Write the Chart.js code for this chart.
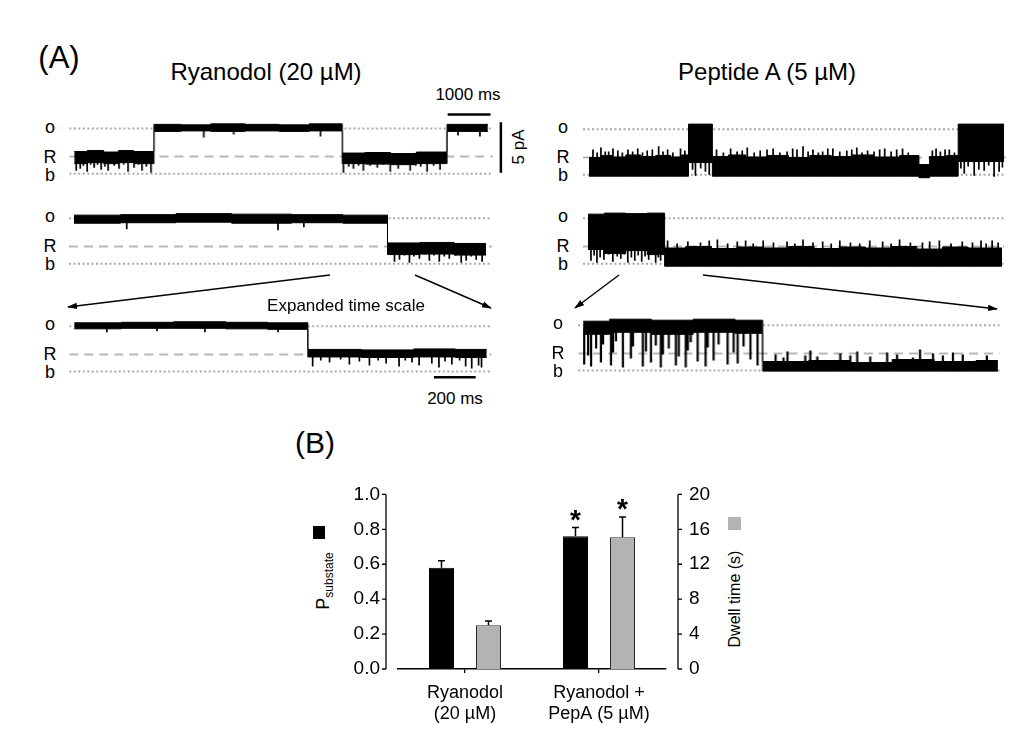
<!DOCTYPE html>
<html>
<head>
<meta charset="utf-8">
<script src="https://cdn.jsdelivr.net/npm/chart.js"></script>
<style>
html, body { margin: 0; padding: 0; background: #fff; }
#fig { position: relative; width: 1022px; height: 740px; overflow: hidden;
       font-family: "Liberation Sans", Arial, sans-serif; color: #000; }
.t { position: absolute; white-space: nowrap; line-height: 1; }
.wrap { position: absolute; }
.sq { position: absolute; }
</style>
</head>
<body>
<div id="fig">
  <svg width="1022" height="740" style="position:absolute;left:0;top:0">
    <defs>
      <marker id="ah" markerWidth="10" markerHeight="8" refX="9" refY="4" orient="auto" markerUnits="userSpaceOnUse">
        <path d="M0,0.8 L10,4 L0,7.2 z" fill="#000"/>
      </marker>
    </defs>
    <g stroke="#000" stroke-width="1.4" marker-end="url(#ah)">
      <line x1="330" y1="275" x2="68" y2="307"/>
      <line x1="415" y1="275" x2="491" y2="308"/>
      <line x1="619" y1="275" x2="575" y2="308"/>
      <line x1="703" y1="275" x2="997" y2="309"/>
    </g>
  </svg>
</div>
<script>
// ---- panel A: levels (pA) ----
const levelO = 4.5, levelR = 1.7, levelB = 0;

// Ryanodol, 1st row (time ms, envelope top/bottom pA, spikes)
const L1_t  = [116, 420, 800, 1150, 1500, 1977, 2600, 3300, 4100, 4900, 5600, 6372, 6900, 7500, 8100, 8815, 9767];
const L1_hi = [2.2, 2.3, 2.15, 2.3, 2.2, 4.9, 4.85, 4.95, 4.9, 4.85, 4.95, 2.05, 2.1, 2.0, 2.15, 4.9, 4.9];
const L1_lo = [1.0, 1.1, 1.0, 1.1, 1.0, 4.2, 4.25, 4.2, 4.25, 4.2, 4.25, 1.0, 0.95, 0.9, 1.0, 4.2, 4.2];
const L1_spT = [163, 256, 330, 419, 500, 581, 660, 744, 830, 907, 1050, 1163, 1270, 1372, 1512, 1620, 1698, 1800, 1907,
                3140, 3838, 5861,
                6396, 6520, 6629, 6750, 6862, 7020, 7187, 7330, 7490, 7676, 7800, 7955, 8080, 8200, 8350, 8500, 8652,
                9070, 9582];
const L1_spY = [0.3, 0.5, 0.8, 0.2, 0.9, 0.6, 0.9, 0.4, 0.7, 0.3, 0.8, 0.5, 0.9, 0.2, 0.6, 0.9, 0.3, 0.7, 0.1,
                3.6, 3.9, 3.7,
                0.1, 0.7, 0.5, 0.8, 0.3, 0.8, 0.6, 0.9, 0.2, 0.5, 0.9, 0.3, 0.8, 0.7, 0.2, 0.8, 0.4,
                3.8, 3.7];

// Ryanodol, 2nd row
const L2_t  = [116, 1200, 2500, 3800, 5200, 6400, 7442, 8200, 9000, 9744];
const L2_hi = [4.8, 4.85, 4.95, 4.9, 4.85, 4.8, 2.05, 2.1, 2.0, 2.0];
const L2_lo = [4.0, 4.05, 4.1, 4.0, 4.05, 4.0, 0.9, 0.95, 0.85, 0.85];
const L2_spT = [1349, 4884, 5488, 7606, 7722, 7840, 7955, 8060, 8188, 8300, 8420, 8530, 8653, 8770, 8886, 9030, 9165, 9281, 9400, 9514, 9653];
const L2_spY = [3.4, 3.3, 3.6, 0.2, 0.4, 0.8, 0.1, 0.7, 0.5, 0.9, 0.3, 0.8, 0.2, 0.7, 0.5, 0.8, 0.1, 0.3, 0.7, 0.4, 0.2];

// Ryanodol, expanded
const L3_t  = [24, 250, 500, 750, 950, 1143, 1400, 1650, 1850, 2000];
const L3_hi = [4.85, 4.9, 4.95, 4.9, 4.85, 2.2, 2.15, 2.25, 2.2, 2.2];
const L3_lo = [4.25, 4.3, 4.3, 4.25, 4.2, 1.45, 1.4, 1.45, 1.4, 1.4];
const L3_spT = [180, 420, 650, 1000, 1166, 1205, 1247, 1300, 1342, 1390, 1438, 1480, 1518, 1580, 1610, 1642, 1676, 1737, 1771, 1800, 1833, 1870, 1899, 1928, 1961, 1975];
const L3_spY = [3.9, 4.0, 3.9, 3.9, 0.5, 1.1, 0.9, 1.2, 0.7, 1.0, 0.6, 1.1, 0.8, 0.5, 1.1, 0.9, 0.6, 0.8, 0.4, 1.0, 0.7, 1.1, 0.5, 0.3, 0.6, 0.4];

// Peptide A, 1st row
const R1_t  = [140, 419, 700, 1000, 1350, 1700, 2050, 2300, 2465, 3023, 3400, 3800, 4300, 4800, 5300, 5800, 6300, 6800, 7400, 7850, 8100, 8500, 8767, 9837];
const R1_hi = [1.7, 1.9, 1.75, 1.95, 1.8, 1.9, 1.75, 1.95, 5.0, 1.8, 1.95, 1.75, 1.9, 1.7, 1.9, 1.8, 1.95, 1.75, 1.9, 1.0, 1.8, 1.9, 5.0, 5.0];
const R1_lo = [-0.15, -0.15, -0.15, -0.15, -0.15, -0.15, -0.15, -0.15, 1.2, -0.15, -0.15, -0.15, -0.15, -0.15, -0.15, -0.15, -0.15, -0.15, -0.15, -0.3, -0.15, -0.15, 1.3, 1.3];
const R1_spT = [233, 330, 419, 520, 600, 700, 814, 920, 1050, 1160, 1279, 1390, 1500, 1620, 1768, 1870, 1977, 2100, 2279, 2380,
                2560, 2628, 2750, 2861, 2950,
                3120, 3280, 3450, 3600, 3720, 3838, 4000, 4140, 4300, 4443, 4600, 4768, 4900, 5000, 5141, 5260, 5373, 5500, 5600, 5720,
                5838, 6000, 6164, 6280, 6397, 6520, 6650, 6800, 6932, 7050, 7200, 7330, 7467, 7600, 8164, 8250, 8350, 8460, 8560, 8680,
                8830, 8909, 9000, 9141, 9250, 9374, 9480, 9606, 9723, 9800];
const R1_spY = [2.5, 2.2, 2.7, 2.3, 2.3, 2.6, 2.4, 2.2, 2.5, 2.3, 2.6, 2.2, 2.4, 2.5, 2.8, 2.3, 2.5, 2.2, 2.6, 2.4,
                0.5, -0.1, 0.6, 0.3, 0.0,
                2.5, 2.2, 2.6, 2.3, 2.4, 2.7, 2.2, 2.4, 2.5, 2.6, 2.2, 2.3, 2.6, 2.5, 2.8, 2.3, 2.5, 2.2, 2.3, 2.6,
                2.6, 2.3, 2.4, 2.5, 2.7, 2.2, 2.4, 2.3, 2.5, 2.6, 2.3, 2.5, 2.6, 2.2, 2.4, 2.6, 2.3, 2.5, 2.5, 2.2,
                0.6, 0.1, 0.8, -0.1, 0.5, 0.4, 0.9, -0.2, 0.3, 0.7];

// Peptide A, 2nd row
const R2_t  = [116, 500, 1000, 1500, 1907, 2400, 3000, 3600, 4200, 4800, 5400, 6000, 6600, 7200, 7800, 8400, 9000, 9791];
const R2_hi = [4.9, 5.0, 4.95, 5.0, 1.55, 1.7, 1.5, 1.65, 1.55, 1.7, 1.5, 1.65, 1.55, 1.7, 1.45, 1.65, 1.55, 1.55];
const R2_lo = [1.4, 1.0, 1.3, 0.9, -0.25, -0.25, -0.25, -0.25, -0.25, -0.25, -0.25, -0.25, -0.25, -0.25, -0.25, -0.25, -0.25, -0.25];
const R2_spT = [186, 260, 326, 400, 488, 600, 698, 800, 884, 960, 1047, 1130, 1210, 1290, 1372, 1450, 1535, 1620, 1698, 1760, 1814,
                1977, 2200, 2450, 2745, 2950, 3140, 3380, 3605, 3800, 3977, 4210, 4450, 4768, 4950, 5141, 5373, 5600, 5800,
                6001, 6250, 6466, 6700, 7001, 7200, 7397, 7650, 7932, 8100, 8327, 8600, 8862, 9100, 9300, 9420, 9560, 9700];
const R2_spY = [0.3, 0.8, 0.1, 0.6, 0.4, 0.9, 0.2, 0.7, 0.5, 0.9, 0.1, 0.6, 0.3, 0.8, 0.2, 0.7, 0.4, 0.9, 0.1, 0.6, 0.3,
                2.3, 2.0, 2.2, 2.1, 2.3, 2.4, 2.0, 2.2, 2.3, 2.0, 2.3, 2.1, 2.2, 2.0, 2.4, 2.1, 2.2, 2.0,
                2.3, 2.1, 2.0, 2.3, 2.2, 2.0, 2.4, 2.1, 2.1, 2.2, 2.3, 2.0, 2.2, 2.1, 2.3, 2.0, 2.3, 2.1];

// Peptide A, expanded
const R3_t  = [24, 150, 350, 550, 750, 881, 1100, 1300, 1500, 1700, 1900, 2005];
const R3_hi = [4.9, 5.1, 5.0, 5.1, 5.0, 0.9, 1.0, 0.8, 1.1, 0.9, 1.0, 1.0];
const R3_lo = [3.6, 3.8, 3.6, 3.8, 3.7, -0.05, -0.05, -0.05, -0.05, -0.05, -0.05, -0.05];
const R3_spT = [29, 48, 62, 86, 109, 119, 157, 167, 181, 214, 252, 262, 309, 324, 348, 371, 395, 405, 433, 467,
                481, 514, 524, 538, 571, 609, 619, 647, 671, 714, 743, 762, 790, 823, 857,
                943, 981, 1000, 1085, 1109, 1142, 1252, 1300, 1333, 1395, 1476, 1523, 1599, 1633, 1695, 1742, 1790, 1837, 1952];
const R3_spY = [0.6, 1.5, 0.4, 2.2, 0.8, 2.6, 0.5, 1.8, 2.9, 0.3, 1.2, 2.4, 0.4, 1.9, 0.8, 2.5, 0.3, 1.6, 2.2, 0.5,
                1.4, 0.3, 2.0, 2.8, 0.9, 0.4, 2.3, 1.0, 2.6, 0.6, 1.8, 0.7, 2.4, 1.1, 0.5,
                1.6, 1.3, 1.9, 1.5, 2.0, 1.4, 1.7, 1.5, 1.9, 1.4, 1.8, 1.6, 1.3, 2.1, 1.7, 1.5, 1.8, 1.6, 1.5];

// scale bars
const barSlowMs = 1000, barFastMs = 200, barCurrentPA = 5;

// ---- panel B ----
const groups = [['Ryanodol', '(20 µM)'], ['Ryanodol +', 'PepA (5 µM)']];
const pSubstate = [0.58, 0.76];
const pSubstateErr = [0.04, 0.05];
const dwellTime = [5.0, 15.1];
const dwellTimeErr = [0.5, 2.3];
const significant = [false, true];

const PX_PER_PA = 10.4;
const fig = document.getElementById('fig');

function addText(html, cx, cy, size, rot, extra) {
    const d = document.createElement('div');
    d.className = 't';
    d.innerHTML = html;
    d.style.left = cx + 'px';
    d.style.top = cy + 'px';
    d.style.fontSize = size + 'px';
    d.style.transform = 'translate(-50%,-50%)' + (rot ? ' rotate(' + rot + 'deg)' : '');
    if (extra) Object.assign(d.style, extra);
    fig.appendChild(d);
}

function addSquare(x, y, w, h, color) {
    const d = document.createElement('div');
    d.className = 'sq';
    Object.assign(d.style, { left: x + 'px', top: y + 'px', width: w + 'px', height: h + 'px', background: color });
    fig.appendChild(d);
}

function midAt(x, ts, hi, lo) {
    let i = 0;
    while (i < ts.length - 2 && ts[i + 1] <= x) i++;
    return (hi[i] + lo[i]) / 2;
}

function refLine(level, xEnd, dash, color) {
    return {
        data: [{ x: 0, y: level }, { x: xEnd, y: level }],
        borderColor: color, borderWidth: 2, borderDash: dash,
        pointRadius: 0, fill: false, order: 5
    };
}

function traceChart(box, t, hi, lo, spT, spY, extra) {
    const wrap = document.createElement('div');
    wrap.className = 'wrap';
    const top = box.bPx - box.yMax * PX_PER_PA;
    Object.assign(wrap.style, {
        left: box.left + 'px', top: top + 'px',
        width: (box.xMax * box.pxPerMs) + 'px',
        height: ((box.yMax - box.yMin) * PX_PER_PA) + 'px'
    });
    const canvas = document.createElement('canvas');
    wrap.appendChild(canvas);
    fig.appendChild(wrap);

    const spikes = [];
    spT.forEach((x, k) => {
        spikes.push({ x: x, y: midAt(x, t, hi, lo) }, { x: x, y: spY[k] }, { x: x, y: null });
    });

    const datasets = [
        { data: t.map((x, i) => ({ x: x, y: hi[i] })), stepped: true, borderColor: '#000', borderWidth: 1,
          backgroundColor: '#000', fill: '+1', pointRadius: 0, order: 1 },
        { data: t.map((x, i) => ({ x: x, y: lo[i] })), stepped: true, borderColor: '#000', borderWidth: 1,
          fill: false, pointRadius: 0, order: 1 },
        { data: spikes, borderColor: '#000', borderWidth: box.spikeWidth || 1.7, fill: false, pointRadius: 0,
          spanGaps: false, order: 0 },
        refLine(levelO, box.lineEnd, [2, 2.5], '#a8a8a8'),
        refLine(levelR, box.lineEnd, [9, 6], '#b8b8b8'),
        refLine(levelB, box.lineEnd, [2, 2.5], '#a8a8a8')
    ].concat(extra || []);

    return new Chart(canvas, {
        type: 'line',
        data: { datasets: datasets },
        options: {
            animation: false,
            responsive: true,
            maintainAspectRatio: false,
            layout: { padding: 0 },
            plugins: { legend: { display: false }, tooltip: { enabled: false } },
            elements: { line: { tension: 0 } },
            scales: {
                x: { type: 'linear', display: false, min: 0, max: box.xMax },
                y: { type: 'linear', display: false, min: box.yMin, max: box.yMax }
            }
        }
    });
}

function scaleBar(points) {
    return { data: points, borderColor: '#000', borderWidth: 2.5, pointRadius: 0, fill: false, order: 0 };
}

traceChart({ left: 68, bPx: 175, pxPerMs: 0.043, xMax: 10200, lineEnd: 9884, yMin: -1, yMax: 6.6 },
    L1_t, L1_hi, L1_lo, L1_spT, L1_spY, [
        scaleBar([{ x: 8830, y: 5.87 }, { x: 8830 + barSlowMs, y: 5.87 }]),
        scaleBar([{ x: 10072, y: 0.1 }, { x: 10072, y: 0.1 + barCurrentPA }])
    ]);
traceChart({ left: 68, bPx: 264, pxPerMs: 0.043, xMax: 9884, lineEnd: 9884, yMin: -1, yMax: 6 },
    L2_t, L2_hi, L2_lo, L2_spT, L2_spY);
traceChart({ left: 68, bPx: 372, pxPerMs: 0.21, xMax: 2024, lineEnd: 2024, yMin: -1, yMax: 6 },
    L3_t, L3_hi, L3_lo, L3_spT, L3_spY, [
        scaleBar([{ x: 1747, y: -0.58 }, { x: 1747 + barFastMs, y: -0.58 }])
    ]);
traceChart({ left: 582, bPx: 175, pxPerMs: 0.043, xMax: 9884, lineEnd: 9884, yMin: -1, yMax: 6 },
    R1_t, R1_hi, R1_lo, R1_spT, R1_spY);
traceChart({ left: 582, bPx: 264, pxPerMs: 0.043, xMax: 9837, lineEnd: 9837, yMin: -1, yMax: 6 },
    R2_t, R2_hi, R2_lo, R2_spT, R2_spY);
traceChart({ left: 577, bPx: 371, pxPerMs: 0.21, xMax: 2014, lineEnd: 2014, yMin: -1, yMax: 6, spikeWidth: 2.2 },
    R3_t, R3_hi, R3_lo, R3_spT, R3_spY);

// panel A text
addText('(A)', 59, 57, 31);
addText('Ryanodol (20 µM)', 266, 71.5, 24);
addText('Peptide A (5 µM)', 767, 72, 24);
addText(barSlowMs + ' ms', 468, 94, 17);
addText(barCurrentPA + ' pA', 518, 147, 17, -90);
addText('Expanded time scale', 346, 305, 17);
addText(barFastMs + ' ms', 455, 398, 17);

[[50, 175], [50, 264], [50, 372], [563, 175], [563, 264], [558, 371]].forEach(([cx, b]) => {
    addText('o', cx, b - levelO * PX_PER_PA - 1.5, 18);
    addText('R', cx, b - levelR * PX_PER_PA, 18);
    addText('b', cx, b - levelB * PX_PER_PA - 0.5, 18);
});

// ---- panel B chart ----
addText('(B)', 315, 443, 30);
addText('P<span style="font-size:12px;position:relative;top:4px">substate</span>', 323, 581, 18, -90);
addSquare(313, 526, 12, 13, '#000');
addText('Dwell time (s)', 735, 599, 16, -90);
addSquare(728, 517, 13, 13, '#b3b3b3');

const wrapB = document.createElement('div');
wrapB.className = 'wrap';
Object.assign(wrapB.style, { left: '290px', top: '460px', width: '470px', height: '275px' });
const canvasB = document.createElement('canvas');
wrapB.appendChild(canvasB);
fig.appendChild(wrapB);

const offsetAxes = {
    id: 'offsetAxes',
    afterDraw(chart) {
        const ctx = chart.ctx, area = chart.chartArea;
        ctx.save();
        ctx.strokeStyle = '#000';
        ctx.lineWidth = 1.3;
        [['y', area.left - 12, -4], ['y2', area.right + 12, 4]].forEach(([id, x, dir]) => {
            const s = chart.scales[id];
            ctx.beginPath();
            ctx.moveTo(x, s.getPixelForValue(s.min));
            ctx.lineTo(x, s.getPixelForValue(s.max));
            s.ticks.forEach(tk => {
                const y = s.getPixelForValue(tk.value);
                ctx.moveTo(x, y);
                ctx.lineTo(x + dir, y);
            });
            ctx.stroke();
        });
        ctx.restore();
    }
};

const errorBars = {
    id: 'errorBars',
    afterDatasetsDraw(chart) {
        const ctx = chart.ctx;
        const errs = [pSubstateErr, dwellTimeErr];
        ctx.save();
        ctx.strokeStyle = '#000';
        ctx.fillStyle = '#000';
        ctx.lineWidth = 1.5;
        chart.data.datasets.forEach((ds, di) => {
            const meta = chart.getDatasetMeta(di);
            const s = chart.scales[meta.yAxisID];
            meta.data.forEach((bar, i) => {
                const yTop = s.getPixelForValue(ds.data[i] + errs[di][i]);
                ctx.beginPath();
                ctx.moveTo(bar.x, bar.y);
                ctx.lineTo(bar.x, yTop);
                ctx.moveTo(bar.x - 3.5, yTop);
                ctx.lineTo(bar.x + 3.5, yTop);
                ctx.stroke();
                if (significant[i]) {
                    ctx.font = 'bold 28px "Liberation Sans", Arial, sans-serif';
                    ctx.textAlign = 'center';
                    ctx.textBaseline = 'alphabetic';
                    ctx.fillText('*', bar.x, yTop + 1);
                }
            });
        });
        ctx.restore();
    }
};

const tickFont = { family: '"Liberation Sans", Arial, sans-serif', size: 18 };
const yTickFont = { family: '"Liberation Sans", Arial, sans-serif', size: 19 };

new Chart(canvasB, {
    type: 'bar',
    data: {
        labels: groups,
        datasets: [
            { data: pSubstate, yAxisID: 'y', backgroundColor: '#000', borderColor: '#000', borderWidth: 1 },
            { data: dwellTime, yAxisID: 'y2', backgroundColor: '#b3b3b3', borderColor: '#2a2a2a', borderWidth: 1 }
        ]
    },
    options: {
        animation: false,
        responsive: true,
        maintainAspectRatio: false,
        categoryPercentage: 0.7015,
        barPercentage: 0.532,
        layout: { padding: { left: 48, right: 34, top: 21, bottom: 6 } },
        plugins: { legend: { display: false }, tooltip: { enabled: false } },
        scales: {
            x: {
                grid: { display: true, drawOnChartArea: false, drawTicks: true, tickLength: 4, offset: false, color: '#000', lineWidth: 1.3 },
                border: { display: true, color: '#000', width: 1.5 },
                ticks: { font: tickFont, color: '#000', padding: 9, maxRotation: 0 },
                afterFit: s => { s.height = 60; }
            },
            y: {
                position: 'left', min: 0, max: 1,
                grid: { display: false, drawTicks: false },
                border: { display: false },
                ticks: { stepSize: 0.2, font: yTickFont, color: '#000', padding: 18, callback: v => v.toFixed(1) },
                afterFit: s => { s.width = 60; }
            },
            y2: {
                position: 'right', min: 0, max: 20,
                grid: { display: false, drawTicks: false },
                border: { display: false },
                ticks: { stepSize: 4, font: yTickFont, color: '#000', padding: 23 },
                afterFit: s => { s.width = 60; }
            }
        }
    },
    plugins: [offsetAxes, errorBars]
});
</script>
</body>
</html>
